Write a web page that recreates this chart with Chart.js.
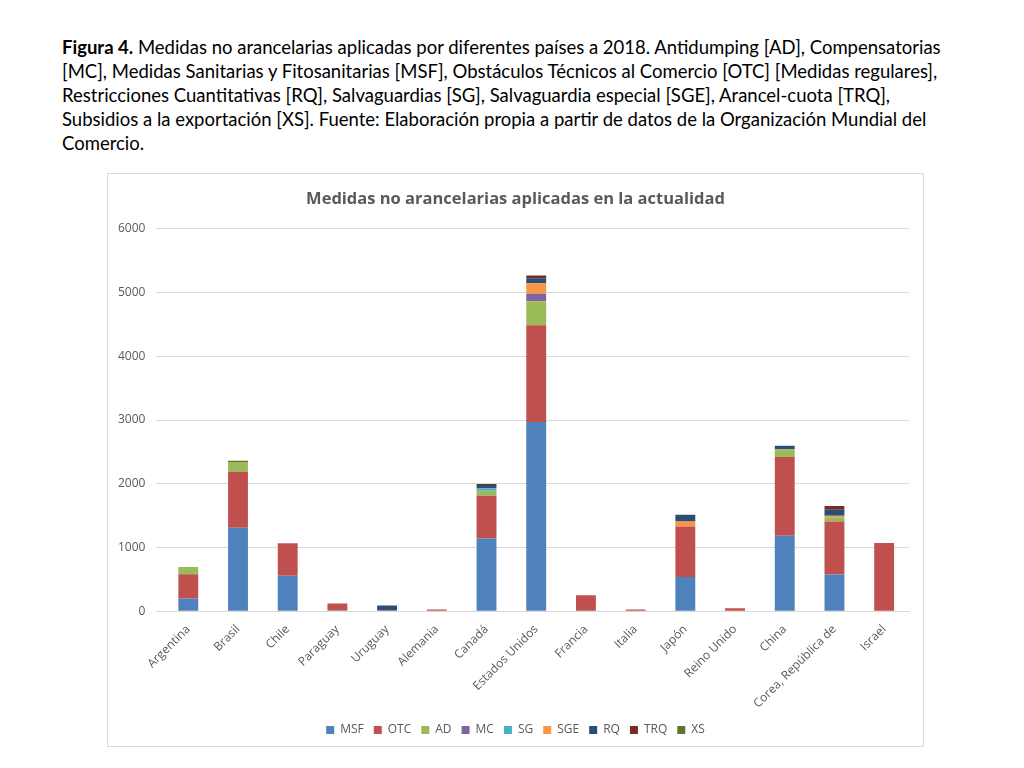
<!DOCTYPE html>
<html>
<head>
<meta charset="utf-8">
<script src="https://cdn.jsdelivr.net/npm/chart.js@4"></script>
<style>
    body { margin: 0; width: 1024px; height: 768px; background: #fff; position: relative; overflow: hidden; }
    #caption { position: absolute; left: 62px; top: 35px; font-family: "Lato", "Open Sans", sans-serif; font-size: 18.5px; line-height: 24px; color: #000; white-space: nowrap; }
    #box { position: absolute; left: 107px; top: 173px; width: 815px; height: 572px; border: 1px solid #d9d9d9; }
</style>
</head>
<body>
<div id="caption">
<b>Figura 4.</b> Medidas no arancelarias aplicadas por diferentes países a 2018. Antidumping [AD], Compensatorias<br>
[MC], Medidas Sanitarias y Fitosanitarias [MSF], Obstáculos Técnicos al Comercio [OTC] [Medidas regulares],<br>
Restricciones Cuantitativas [RQ], Salvaguardias [SG], Salvaguardia especial [SGE], Arancel-cuota [TRQ],<br>
Subsidios a la exportación [XS]. Fuente: Elaboración propia a partir de datos de la Organización Mundial del<br>
Comercio.
</div>
<div id="box"><canvas id="chart"></canvas></div>
<script>
var paises = ["Argentina", "Brasil", "Chile", "Paraguay", "Uruguay", "Alemania", "Canadá", "Estados Unidos",
    "Francia", "Italia", "Japón", "Reino Unido", "China", "Corea, República de", "Israel"];

// valores (aprox.)
var msf = [200, 1310, 555, 10, 0, 0, 1140, 2970, 0, 0, 535, 0, 1185, 577, 0];
var otc = [380, 880, 510, 110, 10, 25, 672, 1518, 250, 26, 794, 45, 1236, 830, 1070];
var ad  = [115, 150, 0, 0, 0, 0, 78, 374, 0, 0, 0, 0, 120, 68, 0];
var mc  = [0, 0, 0, 0, 0, 0, 0, 120, 0, 0, 0, 0, 0, 0, 0];
var sg  = [0, 0, 0, 0, 0, 0, 38, 0, 0, 0, 0, 0, 0, 0, 0];
var sge = [0, 0, 0, 0, 0, 0, 0, 165, 0, 0, 78, 0, 0, 21, 0];
var rq  = [0, 0, 0, 0, 80, 0, 51, 78, 0, 0, 105, 0, 57, 94, 0];
var trq = [0, 0, 0, 0, 0, 0, 16, 42, 0, 0, 0, 0, 0, 62, 0];
var xs  = [0, 20, 0, 0, 0, 0, 0, 0, 0, 0, 0, 0, 0, 0, 0];

var yTicks = [0, 1000, 2000, 3000, 4000, 5000, 6000];

var gris = "#595959";
var fuente = "'Open Sans', sans-serif";

function serie(nombre, datos, color) {
    return {
        label: nombre,
        data: datos,
        backgroundColor: color,
        borderWidth: 0,
        categoryPercentage: 0.8,
        barPercentage: 0.5
    };
}

new Chart(document.getElementById("chart"), {
    type: 'bar',
    data: {
        labels: paises,
        datasets: [
            serie("MSF", msf, "#4F81BD"),
            serie("OTC", otc, "#C0504D"),
            serie("AD", ad, "#9BBB59"),
            serie("MC", mc, "#8064A2"),
            serie("SG", sg, "#4BACC6"),
            serie("SGE", sge, "#F79646"),
            serie("RQ", rq, "#2C4D75"),
            serie("TRQ", trq, "#772C2A"),
            serie("XS", xs, "#5F7530")
        ]
    },
    options: {
        responsive: true,
        maintainAspectRatio: false,
        animation: false,
        layout: { padding: { left: 0, right: 0, top: 4, bottom: 0 } },
        plugins: {
            title: {
                display: true,
                text: "Medidas no arancelarias aplicadas en la actualidad",
                color: gris,
                font: { family: fuente, size: 16.5, weight: 'bold' },
                padding: { top: 11, bottom: 20 }
            },
            legend: {
                position: 'bottom',
                labels: {
                    color: gris,
                    boxWidth: 8,
                    boxHeight: 8,
                    padding: 10,
                    font: { family: fuente, size: 12 }
                }
            },
            tooltip: { enabled: false }
        },
        scales: {
            x: {
                stacked: true,
                grid: { display: false },
                border: { color: "#d9d9d9" },
                // las etiquetas giradas pueden salir a la izquierda del área, como en Excel
                afterFit: function(scale) {
                    scale.paddingLeft = 0;
                    scale.paddingRight = 14;
                },
                ticks: {
                    color: gris,
                    font: { family: fuente, size: 12 },
                    minRotation: 45,
                    maxRotation: 45,
                    autoSkip: false
                }
            },
            y: {
                stacked: true,
                min: 0,
                max: 6000,
                afterBuildTicks: function(axis) {
                    axis.ticks = yTicks.map(function(v) { return { value: v }; });
                },
                grid: { color: "#d9d9d9" },
                border: { display: false },
                ticks: {
                    color: gris,
                    font: { family: fuente, size: 12 },
                    padding: 10,
                    callback: function(v) { return String(v); }
                }
            }
        }
    }
});
</script>
</body>
</html>
